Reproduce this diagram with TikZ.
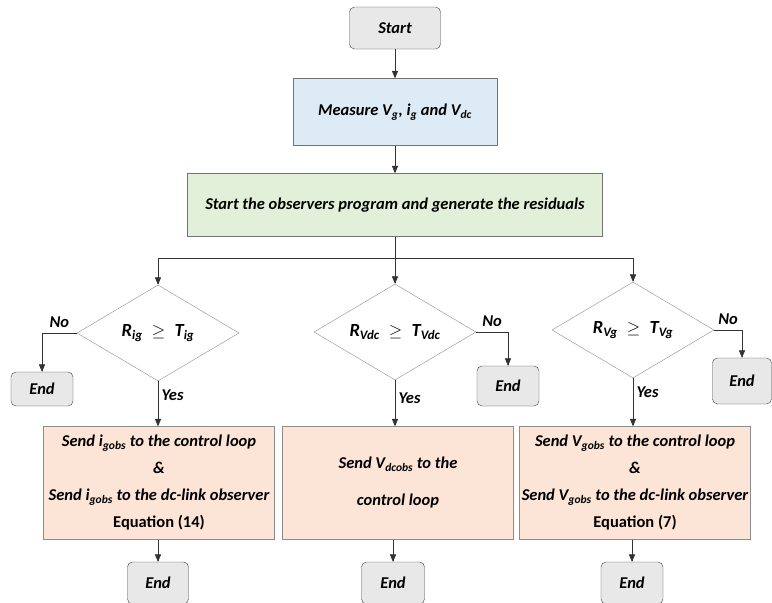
\documentclass[tikz,border=0pt]{standalone}
\usepackage{fontspec}
\setmainfont{Carlito}
\usetikzlibrary{shapes.geometric,arrows}

\definecolor{termgray}{HTML}{E8E8E8}
\definecolor{measblue}{HTML}{DDEBF7}
\definecolor{obsgreen}{HTML}{E2F0D9}
\definecolor{actsalmon}{HTML}{FCE4D6}

\newcommand{\lo}[1]{\textsubscript{#1}}

\begin{document}
\begin{tikzpicture}[x=1pt, y=-1pt, >=triangle 45,
    font=\fontsize{16.5}{19}\selectfont\bfseries\itshape,
    term/.style = {draw=black!75, fill=termgray, rounded corners=5pt, minimum width=62pt, minimum height=34pt, inner sep=0pt},
    measure/.style = {draw=black!55, fill=measblue, minimum width=204pt, minimum height=67pt, inner sep=0pt},
    observe/.style = {draw=black!55, fill=obsgreen, minimum width=415pt, minimum height=63pt, inner sep=0pt},
    decision/.style = {draw=black!45, diamond, aspect=1.7, minimum width=162pt, minimum height=96pt, inner sep=0pt, font=\fontsize{18.5}{21}\selectfont\bfseries\itshape},
    action/.style = {draw=black!45, fill=actsalmon, minimum width=231pt, minimum height=113pt, inner sep=0pt, align=center, font=\fontsize{16.5}{27}\selectfont\bfseries\itshape},
    line/.style = {draw=black!80, line width=0.7pt}]

    \useasboundingbox (0,0) rectangle (772,603);

    % Nodes
    \node[term, minimum width=91pt, minimum height=42pt] (start) at (395,28) {Start};
    \node[measure] (meas) at (395,112) {Measure V\lo{g}, i\lo{g} and V\lo{dc}};
    \node[observe] (obs) at (395,205) {Start the observers program and generate the residuals};

    \coordinate (split) at (395,258);
    \coordinate (splitL) at (158,258);
    \coordinate (splitR) at (633,258);

    \node[decision] (dIg) at (158,333) {R\lo{ig}\enspace$\geq$\enspace T\lo{ig}};
    \node[decision] (dVdc) at (395,332) {R\lo{Vdc}\enspace$\geq$\enspace T\lo{Vdc}};
    \node[decision] (dVg) at (633,330) {R\lo{Vg}\enspace$\geq$\enspace T\lo{Vg}};

    \node[term] (noIg) at (42,389) {End};
    \node[term, minimum height=40pt] (noVdc) at (508,386) {End};
    \node[term, minimum width=59pt, minimum height=46pt] (noVg) at (742,381) {End};

    \node[action] (aIg) at (159,483) {Send i\lo{gobs} to the control loop\\ \&\\ Send i\lo{gobs} to the dc-link observer\\ {\upshape Equation (14)}};
    \node[action] (aVdc) at (398,483) {Send V\lo{dcobs} to the\\[10pt] control loop};
    \node[action] (aVg) at (635,483) {Send V\lo{gobs} to the control loop\\ \&\\ Send V\lo{gobs} to the dc-link observer\\ {\upshape Equation (7)}};

    \node[term, minimum width=61pt, minimum height=42pt] (endIg) at (158,583) {End};
    \node[term, minimum width=63pt, minimum height=42pt] (endVdc) at (393,583) {End};
    \node[term, minimum width=62pt, minimum height=42pt] (endVg) at (632,583) {End};

    % Edges
    \draw[line, ->] (start) -- (meas);
    \draw[line, ->] (meas) -- (obs);
    \draw[line] (obs) -- (split);
    \draw[line] (splitL) -- (splitR);
    \draw[line, ->] (splitL) -- (dIg);
    \draw[line, ->] (split) -- (dVdc);
    \draw[line, ->] (splitR) -- (dVg);

    \draw[line, ->] (dIg.west) -| node[pos=0.25, above=2pt] {No} (noIg);
    \draw[line, ->] (dVdc.east) -| node[pos=0.25, above=2pt] {No} (noVdc);
    \draw[line, ->] (dVg.east) -| node[pos=0.25, above=2pt] {No} (noVg);

    \draw[line, ->] (dIg.south) -- node[pos=0.3, right] {Yes} (dIg.south |- aIg.north);
    \draw[line, ->] (dVdc.south) -- node[pos=0.38, right] {Yes} (dVdc.south |- aVdc.north);
    \draw[line, ->] (dVg.south) -- node[pos=0.3, right] {Yes} (dVg.south |- aVg.north);

    \draw[line, ->] (aIg.south -| endIg) -- (endIg);
    \draw[line, ->] (aVdc.south -| endVdc) -- (endVdc);
    \draw[line, ->] (aVg.south -| endVg) -- (endVg);

\end{tikzpicture}
\end{document}
